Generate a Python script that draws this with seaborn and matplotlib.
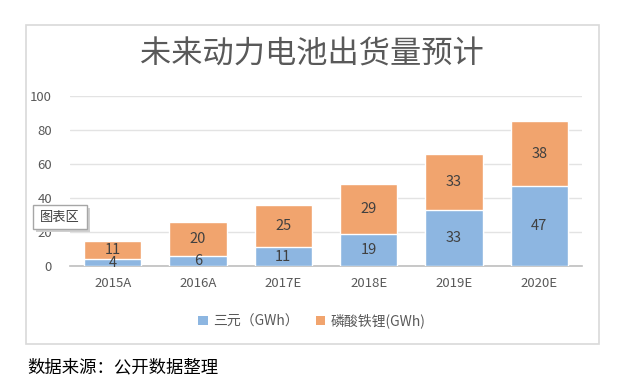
import matplotlib
matplotlib.use("Agg")
import matplotlib.pyplot as plt
import seaborn as sns
import pandas as pd
from matplotlib.patches import Rectangle, Patch

categories = ["2015A", "2016A", "2017E", "2018E", "2019E", "2020E"]
ternary = [4, 6, 11, 19, 33, 47]
lfp = [11, 20, 25, 29, 33, 38]
series_names = ["三元（GWh）", "磷酸铁锂(GWh)"]
yticks = [0, 20, 40, 60, 80, 100]

sns.set_theme(style="white")
plt.rcParams['font.family'] = ['Noto Sans CJK SC', 'DejaVu Sans']

W, H = 638, 383
fig = plt.figure(figsize=(W / 100, H / 100), dpi=100)
fig.patch.set_facecolor("white")

def fx(px):
    return px / W

def fy(py):
    return 1 - py / H

# chart frame
fig.patches.append(Rectangle((fx(26), fy(344)), fx(599) - fx(26), fy(25) - fy(344),
                             transform=fig.transFigure, fill=False,
                             edgecolor="#D9D9D9", linewidth=1.2))

ax = fig.add_axes([fx(70), fy(266), fx(582) - fx(70), fy(96) - fy(266)])

df = pd.DataFrame({"year": categories, "ternary": ternary, "lfp": lfp})
df["total"] = df["ternary"] + df["lfp"]

blue = "#8DB6E1"
orange = "#F1A46E"
sns.barplot(data=df, x="year", y="total", color=orange, width=0.67,
            saturation=1, ax=ax, zorder=2)
sns.barplot(data=df, x="year", y="ternary", color=blue, width=0.67,
            saturation=1, ax=ax, zorder=3)

ax.set_xlim(-0.5, 5.5)
ax.set_ylim(0, 100)
ax.set_yticks(yticks)
ax.yaxis.grid(True, color="#E3E3E3", linewidth=1)
ax.set_axisbelow(True)
for s in ["top", "right", "left"]:
    ax.spines[s].set_visible(False)
ax.spines["bottom"].set_color("#BFBFBF")
ax.spines["bottom"].set_linewidth(1.2)
ax.set_xlabel("")
ax.set_ylabel("")
ax.tick_params(axis="both", length=0, labelsize=9.5, colors="#595959")
ax.tick_params(axis="x", pad=8)
ax.tick_params(axis="y", pad=13)

text_c = "#404040"
for i, (a, b) in enumerate(zip(ternary, lfp)):
    ax.text(i, a / 2, str(a), ha="center", va="center", fontsize=10.5, color=text_c, zorder=5)
    ax.text(i, a + b / 2, str(b), ha="center", va="center", fontsize=10.5, color=text_c, zorder=5)

fig.text(fx(312), fy(55), "未来动力电池出货量预计", ha="center", va="center",
         fontsize=22.5, color="#595959")

handles = [Patch(facecolor=blue, edgecolor="none"), Patch(facecolor=orange, edgecolor="none")]
fig.legend(handles, series_names, loc="center", bbox_to_anchor=(fx(312), fy(321)),
           ncol=2, frameon=False, fontsize=10, labelcolor="#595959",
           handlelength=0.7, handleheight=0.7, handletextpad=0.4, columnspacing=1.2)

# tooltip box with shadow
fig.patches.append(Rectangle((fx(36), fy(232)), fx(90) - fx(36), fy(208) - fy(232),
                             transform=fig.transFigure, facecolor="#D0D0D0",
                             edgecolor="none", zorder=10))
fig.patches.append(Rectangle((fx(33), fy(229)), fx(87) - fx(33), fy(205) - fy(229),
                             transform=fig.transFigure, facecolor="white",
                             edgecolor="#A6A6A6", linewidth=1, zorder=11))
fig.text(fx(60), fy(217), "图表区", ha="center", va="center", fontsize=9.5,
         color="#404040", zorder=12)

fig.text(fx(27), fy(367), "数据来源：公开数据整理", ha="left", va="center",
         fontsize=12.5, color="#000000")

fig.savefig("out.png", dpi=100, facecolor="white")
